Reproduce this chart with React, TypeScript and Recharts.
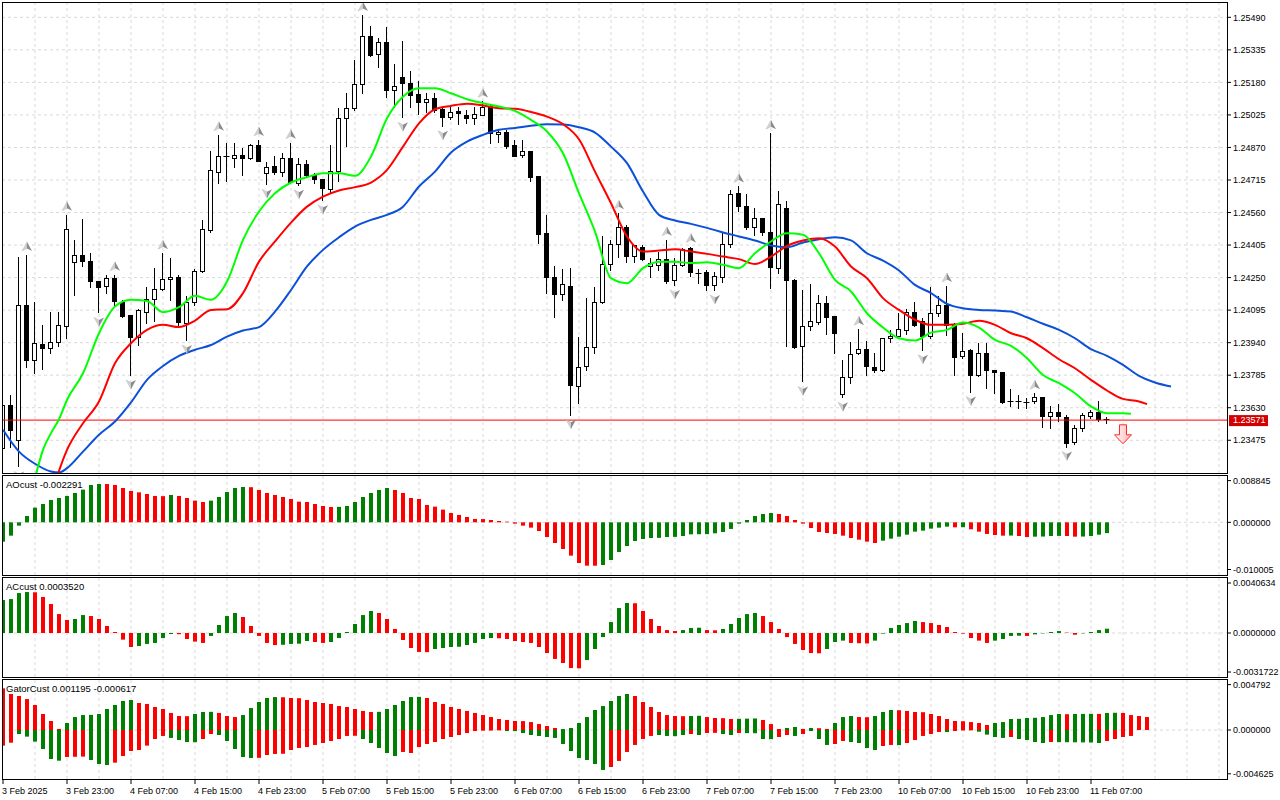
import React from 'react';
import { ComposedChart, Bar, Line, Scatter, XAxis, YAxis, CartesianGrid, ReferenceLine, Cell } from 'recharts';

const FONT = '"Liberation Sans", Arial, sans-serif';
const FS = 9;
const X_DOMAIN: [number, number] = [-0.125, 153];

// ---------- price candles (H1, 3 Feb 15:00 .. 11 Feb 09:00) ----------
const openP = [
  1.23437, 1.23644, 1.23477, 1.24120, 1.23858, 1.23933, 1.23914, 1.23942, 1.24017, 1.24323,
  1.24358, 1.24328, 1.24234, 1.24207, 1.24247, 1.24136, 1.24072, 1.23969, 1.24085, 1.24147,
  1.24195, 1.24242, 1.24252, 1.24037, 1.24136, 1.24282, 1.24477, 1.24755, 1.24827, 1.24819,
  1.24835, 1.24819, 1.24882, 1.24752, 1.24782, 1.24752, 1.24819, 1.24700, 1.24790, 1.24739,
  1.24719, 1.24674, 1.24758, 1.25009, 1.25057, 1.25171, 1.25401, 1.25314, 1.25371, 1.25147,
  1.25205, 1.25176, 1.25124, 1.25086, 1.25105, 1.25054, 1.25014, 1.25044, 1.25025, 1.25009,
  1.25028, 1.25068, 1.24933, 1.24943, 1.24882, 1.24831, 1.24854, 1.24735, 1.24461, 1.24252,
  1.24171, 1.24210, 1.23736, 1.23826, 1.23917, 1.24133, 1.24314, 1.24411, 1.24493, 1.24350,
  1.24398, 1.24303, 1.24311, 1.24338, 1.24239, 1.24311, 1.24390, 1.24274, 1.24279, 1.24215,
  1.24252, 1.24409, 1.24652, 1.24592, 1.24490, 1.24533, 1.24466, 1.24298, 1.24581, 1.24239,
  1.23922, 1.24017, 1.24041, 1.24131, 1.24068, 1.23696, 1.23775, 1.23890, 1.23910, 1.23823,
  1.23810, 1.23961, 1.23972, 1.24004, 1.24088, 1.24041, 1.23969, 1.24080, 1.24120, 1.24025,
  1.23874, 1.23906, 1.23786, 1.23890, 1.23810, 1.23799, 1.23660, 1.23660, 1.23655, 1.23660,
  1.23679, 1.23588, 1.23609, 1.23588, 1.23464, 1.23532, 1.23591, 1.23609, 1.23574,
];
const highP = [
  1.23667, 1.23691, 1.24350, 1.24358, 1.24136, 1.24025, 1.24085, 1.24085, 1.24549, 1.24430,
  1.24530, 1.24366, 1.24234, 1.24263, 1.24263, 1.24144, 1.24072, 1.24099, 1.24207, 1.24298,
  1.24366, 1.24342, 1.24263, 1.24160, 1.24290, 1.24525, 1.24854, 1.24930, 1.24890, 1.24890,
  1.24866, 1.24885, 1.24906, 1.24803, 1.24827, 1.24842, 1.24893, 1.24819, 1.24811, 1.24747,
  1.24719, 1.24882, 1.25057, 1.25128, 1.25287, 1.25501, 1.25449, 1.25390, 1.25446, 1.25267,
  1.25375, 1.25235, 1.25187, 1.25128, 1.25128, 1.25065, 1.25065, 1.25062, 1.25049, 1.25065,
  1.25089, 1.25073, 1.24951, 1.24951, 1.24906, 1.24906, 1.24854, 1.24735, 1.24549, 1.24307,
  1.24291, 1.24298, 1.23969, 1.24152, 1.24207, 1.24446, 1.24430, 1.24557, 1.24501, 1.24406,
  1.24406, 1.24342, 1.24374, 1.24430, 1.24342, 1.24390, 1.24398, 1.24290, 1.24287, 1.24279,
  1.24461, 1.24668, 1.24684, 1.24647, 1.24581, 1.24536, 1.24938, 1.24663, 1.24617, 1.24242,
  1.24191, 1.24218, 1.24168, 1.24163, 1.24068, 1.23858, 1.23942, 1.24004, 1.23949, 1.23890,
  1.23964, 1.24001, 1.24080, 1.24099, 1.24136, 1.24057, 1.24204, 1.24160, 1.24210, 1.24033,
  1.23988, 1.23909, 1.23937, 1.23937, 1.23810, 1.23802, 1.23718, 1.23691, 1.23675, 1.23699,
  1.23683, 1.23636, 1.23647, 1.23596, 1.23548, 1.23604, 1.23620, 1.23660, 1.23588,
];
const lowP = [
  1.23413, 1.23445, 1.23350, 1.23826, 1.23794, 1.23814, 1.23890, 1.23922, 1.23964, 1.24168,
  1.24303, 1.24207, 1.24084, 1.24176, 1.24112, 1.24064, 1.23786, 1.23929, 1.24036, 1.24041,
  1.24191, 1.24144, 1.24017, 1.23953, 1.24120, 1.24279, 1.24469, 1.24703, 1.24708, 1.24779,
  1.24739, 1.24815, 1.24808, 1.24695, 1.24744, 1.24736, 1.24700, 1.24692, 1.24736, 1.24703,
  1.24620, 1.24660, 1.24708, 1.24877, 1.25049, 1.25128, 1.25306, 1.25251, 1.25112, 1.25065,
  1.25014, 1.25065, 1.25028, 1.25041, 1.25041, 1.24973, 1.25006, 1.24981, 1.24985, 1.24981,
  1.25025, 1.24890, 1.24898, 1.24866, 1.24827, 1.24823, 1.24708, 1.24414, 1.24176, 1.24064,
  1.24144, 1.23596, 1.23652, 1.23810, 1.23890, 1.24131, 1.24287, 1.24350, 1.24326, 1.24326,
  1.24334, 1.24255, 1.24287, 1.24226, 1.24215, 1.24303, 1.24258, 1.24223, 1.24191, 1.24191,
  1.24231, 1.24398, 1.24569, 1.24482, 1.24454, 1.24454, 1.24199, 1.24271, 1.23922, 1.23914,
  1.23755, 1.24001, 1.24030, 1.23980, 1.23893, 1.23680, 1.23747, 1.23887, 1.23786, 1.23802,
  1.23807, 1.23945, 1.23969, 1.23980, 1.24017, 1.23906, 1.23961, 1.24068, 1.23977, 1.23786,
  1.23866, 1.23707, 1.23779, 1.23723, 1.23699, 1.23652, 1.23636, 1.23628, 1.23628, 1.23652,
  1.23536, 1.23532, 1.23569, 1.23445, 1.23456, 1.23517, 1.23580, 1.23569, 1.23556,
];
const closeP = [
  1.23644, 1.23525, 1.24120, 1.23858, 1.23937, 1.23914, 1.23942, 1.24022, 1.24481, 1.24358,
  1.24331, 1.24231, 1.24207, 1.24247, 1.24136, 1.24069, 1.23969, 1.24096, 1.24147, 1.24195,
  1.24242, 1.24252, 1.24037, 1.24136, 1.24282, 1.24481, 1.24763, 1.24830, 1.24830, 1.24835,
  1.24819, 1.24882, 1.24808, 1.24779, 1.24752, 1.24819, 1.24703, 1.24790, 1.24739, 1.24719,
  1.24674, 1.24758, 1.25009, 1.25057, 1.25171, 1.25401, 1.25311, 1.25371, 1.25141, 1.25165,
  1.25176, 1.25117, 1.25084, 1.25101, 1.25049, 1.25014, 1.25038, 1.25033, 1.25009, 1.25028,
  1.25065, 1.24941, 1.24943, 1.24874, 1.24830, 1.24851, 1.24731, 1.24461, 1.24252, 1.24171,
  1.24218, 1.23736, 1.23826, 1.23917, 1.24133, 1.24314, 1.24409, 1.24490, 1.24355, 1.24403,
  1.24342, 1.24319, 1.24338, 1.24234, 1.24311, 1.24385, 1.24274, 1.24271, 1.24215, 1.24258,
  1.24409, 1.24647, 1.24592, 1.24490, 1.24533, 1.24466, 1.24298, 1.24601, 1.24236, 1.23922,
  1.24017, 1.24041, 1.24131, 1.24064, 1.23988, 1.23775, 1.23885, 1.23910, 1.23829, 1.23807,
  1.23961, 1.23972, 1.24004, 1.24088, 1.24025, 1.23969, 1.24080, 1.24120, 1.24025, 1.23874,
  1.23898, 1.23786, 1.23890, 1.23810, 1.23799, 1.23655, 1.23656, 1.23659, 1.23656, 1.23679,
  1.23588, 1.23609, 1.23588, 1.23464, 1.23532, 1.23596, 1.23609, 1.23575, 1.23571,
];

// ---------- Alligator lines (shifted: jaw +8, teeth +5, lips +3) ----------
const jawPts: [number, number][] = [
  [0, 1.23525], [2, 1.23421], [4, 1.23363], [6, 1.23326], [7, 1.23321], [8, 1.23342], [10, 1.23421], [12, 1.23501],
  [14, 1.23564], [16, 1.23655], [18, 1.23763], [20, 1.23829], [22, 1.23877], [24, 1.23906], [26, 1.23929], [28, 1.23969],
  [30, 1.23998], [32, 1.24014], [34, 1.24088], [36, 1.24191], [38, 1.24303], [40, 1.24382], [42, 1.24442], [44, 1.24493],
  [46, 1.24525], [48, 1.24549], [50, 1.24588], [52, 1.24684], [54, 1.24755], [56, 1.24846], [58, 1.24898], [60, 1.24930],
  [62, 1.24954], [64, 1.24963], [66, 1.24973], [68, 1.24981], [70, 1.24979], [72, 1.24966], [74, 1.24941], [76, 1.24874],
  [78, 1.24795], [80, 1.24660], [82, 1.24549], [84, 1.24522], [86, 1.24506], [88, 1.24487], [90, 1.24465], [92, 1.24446],
  [94, 1.24427], [96, 1.24403], [98, 1.24395], [100, 1.24417], [102, 1.24433], [104, 1.24442], [106, 1.24427], [108, 1.24366],
  [110, 1.24331], [112, 1.24284], [114, 1.24215], [116, 1.24176], [118, 1.24125], [120, 1.24104], [122, 1.24096], [124, 1.24093],
  [126, 1.24088], [128, 1.24061], [130, 1.24030], [132, 1.24001], [134, 1.23961], [136, 1.23909], [138, 1.23877], [140, 1.23834],
  [142, 1.23782], [144, 1.23750], [146, 1.23731],
];
const teethPts: [number, number][] = [
  [6, 1.23215], [8, 1.23429], [10, 1.23556], [12, 1.23660], [14, 1.23842], [16, 1.23937], [18, 1.24001], [20, 1.24025],
  [22, 1.24014], [24, 1.24045], [26, 1.24096], [28, 1.24099], [30, 1.24176], [32, 1.24326], [34, 1.24422], [36, 1.24512],
  [38, 1.24588], [40, 1.24636], [42, 1.24665], [44, 1.24681], [46, 1.24703], [48, 1.24763], [50, 1.24874], [52, 1.24985],
  [54, 1.25052], [56, 1.25068], [58, 1.25078], [60, 1.25070], [62, 1.25057], [64, 1.25054], [66, 1.25039], [68, 1.25017],
  [70, 1.24981], [72, 1.24909], [74, 1.24755], [76, 1.24604], [78, 1.24446], [80, 1.24374], [82, 1.24379], [84, 1.24385],
  [86, 1.24374], [88, 1.24363], [90, 1.24350], [92, 1.24338], [94, 1.24315], [96, 1.24350], [98, 1.24401], [100, 1.24427],
  [102, 1.24438], [104, 1.24398], [106, 1.24303], [108, 1.24247], [110, 1.24152], [112, 1.24096], [114, 1.24049], [116, 1.24025],
  [118, 1.24025], [120, 1.24030], [122, 1.24044], [124, 1.24025], [126, 1.23985], [128, 1.23961], [130, 1.23914], [132, 1.23861],
  [134, 1.23818], [136, 1.23763], [138, 1.23712], [140, 1.23672], [142, 1.23660], [143, 1.23647],
];
const lipsPts: [number, number][] = [
  [4, 1.23294], [5, 1.23429], [6, 1.23509], [7, 1.23575], [8, 1.23667], [10, 1.23794], [12, 1.23985], [14, 1.24112],
  [16, 1.24144], [18, 1.24139], [20, 1.24085], [22, 1.24109], [24, 1.24163], [26, 1.24144], [28, 1.24231], [30, 1.24430],
  [32, 1.24565], [34, 1.24652], [36, 1.24703], [38, 1.24728], [40, 1.24747], [42, 1.24747], [44, 1.24735], [46, 1.24827],
  [48, 1.25009], [50, 1.25112], [52, 1.25152], [54, 1.25152], [56, 1.25128], [58, 1.25100], [60, 1.25081], [62, 1.25065],
  [64, 1.25044], [66, 1.25001], [68, 1.24946], [70, 1.24842], [72, 1.24652], [74, 1.24469], [76, 1.24247], [78, 1.24223],
  [80, 1.24295], [82, 1.24326], [84, 1.24326], [86, 1.24319], [88, 1.24323], [90, 1.24311], [92, 1.24295], [94, 1.24366],
  [96, 1.24422], [98, 1.24461], [100, 1.24454], [102, 1.24366], [104, 1.24239], [106, 1.24184], [108, 1.24080], [110, 1.24012],
  [112, 1.23961], [114, 1.23950], [116, 1.23988], [118, 1.24001], [120, 1.24036], [122, 1.24012], [124, 1.23953], [126, 1.23925],
  [128, 1.23866], [130, 1.23786], [132, 1.23747], [134, 1.23699], [136, 1.23636], [138, 1.23604], [140, 1.23604], [141, 1.23601],
];

// ---------- fractals & signal ----------
const fractalUpIdx = [3, 8, 14, 20, 27, 32, 36, 45, 60, 77, 83, 86, 92, 96, 107, 118, 129];
const fractalDnIdx = [2, 12, 16, 23, 33, 37, 40, 50, 55, 71, 84, 89, 100, 105, 115, 121, 133];
const signalIdx = 140;
const signalPrice = 1.23501;
const lastPrice = 1.23571;

// ---------- AO ----------
const aoVal = [
  -0.0041, -0.00283, -0.00071, 0.00134, 0.00311, 0.00389, 0.00474, 0.00516, 0.00559, 0.00622,
  0.00693, 0.00792, 0.00813, 0.00812, 0.00792, 0.00728, 0.00665, 0.00636, 0.00601, 0.00559,
  0.00555, 0.0058, 0.00559, 0.00516, 0.0046, 0.00431, 0.0046, 0.00537, 0.00643, 0.00728,
  0.00749, 0.00745, 0.00686, 0.00622, 0.0058, 0.00537, 0.00495, 0.00438, 0.00431, 0.00389,
  0.00346, 0.00325, 0.00328, 0.00346, 0.00431, 0.00537, 0.00622, 0.00686, 0.00728, 0.00686,
  0.00622, 0.00516, 0.00495, 0.00368, 0.00332, 0.00269, 0.00198, 0.00156, 0.00113, 0.00071,
  0.00069, 0.00049, 0.00028, 0.00014, -0.00028, -0.00071, -0.00113, -0.00184, -0.00311, -0.00438,
  -0.00566, -0.00707, -0.00863, -0.00919, -0.0092, -0.00905, -0.00799, -0.00629, -0.00502, -0.00396,
  -0.00354, -0.00332, -0.0033, -0.00311, -0.00309, -0.0029, -0.00255, -0.00253, -0.00251, -0.00233,
  -0.00205, -0.00141, -0.00028, 0.00049, 0.00134, 0.00177, 0.00198, 0.00177, 0.00134, 0.00049,
  -0.00028, -0.0012, -0.00205, -0.00226, -0.00247, -0.00283, -0.00332, -0.00368, -0.0041, -0.00438,
  -0.00389, -0.00346, -0.00304, -0.00262, -0.00198, -0.00177, -0.00134, -0.00113, -0.00092, -0.00106,
  -0.00104, -0.00148, -0.00198, -0.00247, -0.00269, -0.00283, -0.00281, -0.0029, -0.00311, -0.00304,
  -0.00302, -0.0029, -0.00288, -0.0029, -0.00304, -0.00302, -0.0029, -0.00262, -0.00229,
];
const aoColor = [
  'ggggggggggggg', 'rrrrrrrr', 'g', 'rrrr', 'ggggg', 'rrrrrrrrrrr', 'ggggggg',
  'rrrrrrrrrrrrrrrrrrrrrrrrrr', 'gggggggggggggggggggggg', 'rrrrrrrrrrrrr', 'ggggggggg',
  'r', 'g', 'rrrrr', 'g', 'rr', 'gggg', 'rr', 'gggg',
].join('').split('');

// ---------- AC ----------
const acVal = [
  0.00268, 0.00276, 0.00325, 0.00333, 0.00331, 0.00293, 0.00236, 0.00154, 0.00106, 0.00114,
  0.00146, 0.00138, 0.00114, 0.00057, 0.00008, -0.00054, -0.00114, -0.00106, -0.00089, -0.00081,
  -0.00041, -0.00008, -0.0001, -0.00049, -0.0007, -0.00081, -0.00024, 0.00065, 0.00138, 0.00163,
  0.0013, 0.00057, -0.00024, -0.00081, -0.00098, -0.00096, -0.00089, -0.00087, -0.00065, -0.00073,
  -0.00081, -0.00073, -0.00041, 0.00008, 0.00073, 0.00146, 0.00179, 0.00163, 0.00114, 0.00033,
  -0.00057, -0.00122, -0.00154, -0.00156, -0.0013, -0.00122, -0.00114, -0.00112, -0.00098, -0.00081,
  -0.00049, -0.00041, -0.00043, -0.00049, -0.00065, -0.00073, -0.00081, -0.00114, -0.00163, -0.00211,
  -0.00244, -0.00285, -0.00287, -0.0022, -0.0013, -0.00033, 0.00089, 0.00203, 0.00244, 0.00242,
  0.00179, 0.00114, 0.00057, 0.00024, 0.00016, 0.00024, 0.00041, 0.00043, 0.00024, 0.00022,
  0.00033, 0.00073, 0.00122, 0.00154, 0.00163, 0.00138, 0.00089, 0.00033, -0.00033, -0.00089,
  -0.00138, -0.00163, -0.00165, -0.0013, -0.00073, -0.00062, -0.00081, -0.00083, -0.00085, -0.00062,
  -0.00005, 0.00041, 0.00065, 0.00081, 0.00098, 0.00089, 0.00081, 0.00065, 0.00049, 0.00008,
  -0.00005, -0.00041, -0.00062, -0.00081, -0.00062, -0.00049, -0.00024, -0.00022, -0.00024, -0.00011,
  -0.00003, 0.00008, 0.00016, 0.00003, -0.00014, -0.00003, 0.00008, 0.00024, 0.00035,
];
const acColor = [
  'gggg', 'rrrrr', 'gg', 'rrrrrr', 'ggggg', 'rrrr', 'gggg', 'rrrrr', 'gggg', 'rr', 'gggggg',
  'rrrrrrr', 'gggggggg', 'rrrrrrrrrrr', 'gggggg', 'rrrrrr', 'ggg', 'rr', 'ggggg', 'rrrrrrrr',
  'ggg', 'rrr', 'gggggg', 'rrrrrrrrr', 'gggg', 'r', 'gggg', 'rr', 'gggg',
].join('').split('');

// ---------- Gator ----------
const gatorUp = [
  0.0044, 0.0038, 0.00359, 0.00327, 0.00264, 0.00169, 0.00095, 0.00011, 0.00074, 0.00137,
  0.00158, 0.0016, 0.00169, 0.00222, 0.00264, 0.00306, 0.00317, 0.00285, 0.00275, 0.00243,
  0.00222, 0.0018, 0.00148, 0.00146, 0.00169, 0.0019, 0.00192, 0.0018, 0.00148, 0.00137,
  0.00158, 0.00232, 0.00296, 0.00338, 0.00348, 0.00346, 0.00338, 0.00336, 0.00317, 0.00296,
  0.00285, 0.00275, 0.00253, 0.00243, 0.00222, 0.00201, 0.0019, 0.00192, 0.00222, 0.00264,
  0.00306, 0.00348, 0.0035, 0.00338, 0.00296, 0.00275, 0.00243, 0.00222, 0.00201, 0.0018,
  0.00158, 0.00137, 0.00116, 0.00106, 0.00095, 0.00094, 0.00084, 0.00063, 0.00042, 0.00021,
  0.0001, 0.00021, 0.00074, 0.00137, 0.00211, 0.00253, 0.00306, 0.00359, 0.0038, 0.00359,
  0.00296, 0.00243, 0.0019, 0.00158, 0.00148, 0.00146, 0.00148, 0.0015, 0.00137, 0.00127,
  0.00125, 0.00116, 0.00118, 0.0012, 0.00122, 0.00106, 0.00063, 0.00011, 0.00021, 0.00032,
  0.00011, 0.00021, 0.00019, 0.00011, 0.00074, 0.00137, 0.00148, 0.00137, 0.00135, 0.00148,
  0.0019, 0.00211, 0.00209, 0.00201, 0.0019, 0.00188, 0.00169, 0.00148, 0.00116, 0.00095,
  0.00093, 0.00084, 0.00074, 0.00053, 0.00074, 0.00084, 0.00116, 0.00118, 0.00127, 0.00129,
  0.00137, 0.00158, 0.00169, 0.00167, 0.00169, 0.0017, 0.00171, 0.0017, 0.0018, 0.00182,
  0.0018, 0.00158, 0.00148, 0.00137,
];
const gatorUpColor = [
  'rrrrrrrr', 'ggggggggg', 'rrrrrrr', 'ggg', 'rrr', 'ggggg', 'rrrrrrrrrrrr', 'gggggg',
  'rrrrrrrrrrrrrrrrr', 'ggggggggg', 'rrrrrrr', 'gg', 'rrrr', 'ggg', 'rrr', 'gg', 'r', 'g', 'rr',
  'ggg', 'rr', 'ggg', 'rrrrrrrrrrrr', 'ggggggggg', 'r', 'ggg', 'r', 'gg', 'rrrr',
].join('').split('');
const gatorDn = [
  -0.00165, -0.00134, -0.00042, -0.0007, -0.00123, -0.00201, -0.00306, -0.00324, -0.00285, -0.00283,
  -0.00281, -0.00317, -0.00359, -0.0037, -0.00345, -0.00275, -0.00222, -0.00211, -0.00165, -0.00095,
  -0.00063, -0.00084, -0.00106, -0.00127, -0.00129, -0.00095, -0.00042, -0.00053, -0.00116, -0.00201,
  -0.00285, -0.00296, -0.00294, -0.00264, -0.00253, -0.00251, -0.00211, -0.0019, -0.0018, -0.00158,
  -0.00137, -0.00116, -0.00095, -0.00063, -0.00061, -0.00095, -0.00137, -0.0019, -0.00243, -0.00275,
  -0.00232, -0.00243, -0.0018, -0.00148, -0.00127, -0.00095, -0.00074, -0.00053, -0.00032, -0.00011,
  -0.00007, -0.00006, -0.00004, -0.00011, -0.00012, -0.00032, -0.00053, -0.00063, -0.00074, -0.00084,
  -0.00148, -0.00222, -0.00296, -0.00317, -0.00359, -0.00422, -0.00391, -0.00327, -0.00232, -0.00158,
  -0.00095, -0.00063, -0.00053, -0.00063, -0.00065, -0.00053, -0.00042, -0.00053, -0.00032, -0.0003,
  -0.00042, -0.00053, -0.00032, -0.00033, -0.00034, -0.00095, -0.00097, -0.00074, -0.00053, -0.00063,
  -0.00042, -0.00011, -0.00095, -0.00158, -0.00148, -0.00116, -0.00127, -0.00137, -0.0019, -0.00211,
  -0.00169, -0.00158, -0.0016, -0.00137, -0.00106, -0.00063, -0.00042, -0.00021, -0.00022, -0.00011,
  -0.00005, -0.00004, -0.00018, -0.00049, -0.00074, -0.00084, -0.00074, -0.00095, -0.00106, -0.00127,
  -0.00137, -0.00127, -0.00128, -0.00129, -0.0013, -0.00131, -0.00132, -0.00137, -0.00116, -0.00095,
  -0.00074, -0.00063,
];
const gatorDnColor = [
  'rr', 'gggggg', 'rrr', 'ggg', 'rrrrrrr', 'gggg', 'rr', 'ggggg', 'rrrrrrrrrrrrr', 'ggggg',
  'rrrrrrrrrrrrr', 'ggggggggggggg', 'rrrrrr', 'gggg', 'r', 'g', 'rr', 'gg', 'r', 'gggg', 'rr', 'g',
  'r', 'ggg', 'rr', 'gggg', 'rr', 'g', 'rrrrr', 'g', 'rrr', 'gggg', 'r', 'gggg', 'r', 'gggggg', 'rrrr',
].join('').split('');

// ---------- axes ----------
const priceTicks = [1.23475, 1.2363, 1.23785, 1.2394, 1.24095, 1.2425, 1.24405, 1.2456, 1.24715, 1.2487, 1.25025, 1.2518, 1.25335, 1.2549];
const aoTicks = [0.008845, 0, -0.010005];
const acTicks = [0.0040634, 0, -0.0031722];
const gatorTicks = [0.004792, 0, -0.004625];
const gridIdx = [4, 8, 12, 16, 20, 24, 28, 32, 36, 40, 44, 48, 52, 56, 60, 64, 68, 72, 76, 80, 84, 88, 92, 96, 100, 104, 108, 112, 116, 120, 124, 128, 132, 136, 140, 144, 148, 152];
const timeIdx = [0, 8, 16, 24, 32, 40, 48, 56, 64, 72, 80, 88, 96, 104, 112, 120, 128, 136];
const timeLabels = [
  '3 Feb 2025', '3 Feb 23:00', '4 Feb 07:00', '4 Feb 15:00', '4 Feb 23:00', '5 Feb 07:00', '5 Feb 15:00', '5 Feb 23:00',
  '6 Feb 07:00', '6 Feb 15:00', '6 Feb 23:00', '7 Feb 07:00', '7 Feb 15:00', '7 Feb 23:00', '10 Feb 07:00', '10 Feb 15:00',
  '10 Feb 23:00', '11 Feb 07:00',
];
const aoTitle = 'AOcust -0.002291';
const acTitle = 'ACcust 0.0003520';
const gatorTitle = 'GatorCust 0.001195 -0.000617';

const GREEN = '#008000';
const RED = '#ff0000';

// ---------- table building ----------
const mainRows: any[] = [];
for (let i = 0; i <= 146; i++) {
  const r: any = { i };
  if (i < openP.length) {
    r.o = openP[i]; r.h = highP[i]; r.l = lowP[i]; r.c = closeP[i];
    r.range = [lowP[i], highP[i]];
  }
  mainRows.push(r);
}
jawPts.forEach(([i, v]) => { mainRows[i].jaw = v; });
teethPts.forEach(([i, v]) => { mainRows[i].teeth = v; });
lipsPts.forEach(([i, v]) => { mainRows[i].lips = v; });

const fracUpData = fractalUpIdx.map((i) => ({ i, y: highP[i] }));
const fracDnData = fractalDnIdx.map((i) => ({ i, y: lowP[i] }));
const signalData = [{ i: signalIdx, y: signalPrice }];

const aoRows = aoVal.map((v, i) => ({ i, v }));
const acRows = acVal.map((v, i) => ({ i, v }));
const gatorRows = gatorUp.map((u, i) => ({ i, u, d: i < gatorDn.length ? gatorDn[i] : undefined }));

// ---------- shapes ----------
function Candle(props: any) {
  const { x, y, width, height, payload } = props;
  if (!payload || payload.o == null || x == null || y == null) return null;
  const top = Math.min(y, y + height);
  const span = Math.abs(height);
  const hi = payload.h, lo = payload.l;
  const k = hi > lo ? span / (hi - lo) : 0;
  const yO = top + (hi - payload.o) * k;
  const yC = top + (hi - payload.c) * k;
  const cx = Math.floor(x + width / 2) + 0.5;
  const bull = payload.c >= payload.o;
  const bt = Math.min(yO, yC), bb = Math.max(yO, yC);
  return (
    <g>
      <line x1={cx} x2={cx} y1={Math.round(top)} y2={Math.round(top + span) + 1} stroke="#000" strokeWidth={1} />
      {bb - bt < 1.5 ? (
        <line x1={cx - 3} x2={cx + 3} y1={Math.round(yO) + 0.5} y2={Math.round(yO) + 0.5} stroke="#000" strokeWidth={1} />
      ) : (
        <rect x={cx - 2} y={Math.round(bt) + 0.5} width={4} height={Math.max(1, Math.round(bb - bt))}
          fill={bull ? '#fff' : '#000'} stroke="#000" strokeWidth={1} />
      )}
    </g>
  );
}

function FractalUp(props: any) {
  const { cx, cy } = props;
  if (cx == null || cy == null) return null;
  return (
    <g transform={`translate(${cx},${cy - 8})`}>
      <path d="M0,-5 L-5,4 L0,1.5 Z" fill="#d2d2d2" stroke="#b0b0b0" strokeWidth={0.4} />
      <path d="M0,-5 L5,4 L0,1.5 Z" fill="#8a8a8a" />
    </g>
  );
}

function FractalDown(props: any) {
  const { cx, cy } = props;
  if (cx == null || cy == null) return null;
  return (
    <g transform={`translate(${cx},${cy + 9})`}>
      <path d="M0,5 L-5,-4 L0,-1.5 Z" fill="#d2d2d2" stroke="#b0b0b0" strokeWidth={0.4} />
      <path d="M0,5 L5,-4 L0,-1.5 Z" fill="#8a8a8a" />
    </g>
  );
}

function SignalArrow(props: any) {
  const { cx, cy } = props;
  if (cx == null || cy == null) return null;
  return (
    <g transform={`translate(${cx},${cy})`}>
      <defs>
        <linearGradient id="sigfill" x1="0" y1="0" x2="1" y2="0">
          <stop offset="0" stopColor="#ffffff" />
          <stop offset="1" stopColor="#ffb0b0" />
        </linearGradient>
      </defs>
      <path d="M-3.5,-10 H3.5 V0 H8.5 L0,9 L-8.5,0 H-3.5 Z" fill="url(#sigfill)" stroke="#ff2a2a" strokeWidth={1} />
    </g>
  );
}

function PriceTag(props: any) {
  const vb = props.viewBox || {};
  const x = (vb.x || 0) + (vb.width || 0);
  const y = vb.y || 0;
  return (
    <g>
      <rect x={x + 2} y={y - 5} width={39} height={11} fill="#d20000" />
      <text x={x + 6} y={y} dy="0.36em" fill="#fff" fontSize={FS} fontFamily={FONT}>{lastPrice.toFixed(5)}</text>
    </g>
  );
}

function TimeTick(props: any) {
  const { x, y, payload } = props;
  const k = timeIdx.indexOf(payload.value);
  if (k < 0) return null;
  return (
    <text x={x - 1} y={y + 8} fontSize={FS} fontFamily={FONT} fill="#000" textAnchor="start">{timeLabels[k]}</text>
  );
}

const tickStyle = { fontSize: FS, fontFamily: FONT, fill: '#000' };

function frame(left: number, top: number, width: number, height: number) {
  return (
    <div style={{ position: 'absolute', left, top, width, height, border: '1px solid #000', boxSizing: 'border-box', pointerEvents: 'none' }} />
  );
}

export default function App() {
  return (
    <div style={{ position: 'absolute', left: 0, top: 0, width: 1280, height: 800, background: '#fff', overflow: 'hidden', fontFamily: FONT }}>
      {/* main price pane */}
      <div style={{ position: 'absolute', left: 0, top: 0 }}>
        <ComposedChart width={1280} height={475} data={mainRows} margin={{ top: 2, right: 0, bottom: 2, left: 2 }}>
          <CartesianGrid stroke="#d9d9d9" strokeDasharray="3 3" horizontalValues={priceTicks} verticalValues={gridIdx} />
          <XAxis type="number" dataKey="i" domain={X_DOMAIN} allowDataOverflow hide />
          <YAxis orientation="right" width={53} domain={[1.23319, 1.25563]} allowDataOverflow ticks={priceTicks} interval={0}
            tickFormatter={(v: number) => v.toFixed(5)} tick={tickStyle} tickSize={4} tickLine={{ stroke: '#000' }} axisLine={false} />
          <ReferenceLine y={lastPrice} stroke="#ff0000" strokeWidth={1} label={<PriceTag />} />
          <Bar dataKey="range" barSize={5} shape={(p: any) => <Candle {...p} />} isAnimationActive={false} />
          <Line dataKey="jaw" stroke="#0a50d8" strokeWidth={2} dot={false} connectNulls type="monotone" isAnimationActive={false} />
          <Line dataKey="teeth" stroke="#ff0000" strokeWidth={2} dot={false} connectNulls type="monotone" isAnimationActive={false} />
          <Line dataKey="lips" stroke="#00ff00" strokeWidth={2} dot={false} connectNulls type="monotone" isAnimationActive={false} />
          <Scatter data={fracUpData} dataKey="y" shape={(p: any) => <FractalUp {...p} />} isAnimationActive={false} />
          <Scatter data={fracDnData} dataKey="y" shape={(p: any) => <FractalDown {...p} />} isAnimationActive={false} />
          <Scatter data={signalData} dataKey="y" shape={(p: any) => <SignalArrow {...p} />} isAnimationActive={false} />
        </ComposedChart>
      </div>
      {frame(2, 2, 1226, 472)}

      {/* AO pane */}
      <div style={{ position: 'absolute', left: 0, top: 474 }}>
        <ComposedChart width={1280} height={103} data={aoRows} margin={{ top: 2, right: 0, bottom: 2, left: 2 }}>
          <CartesianGrid stroke="#d9d9d9" strokeDasharray="3 3" horizontalValues={[0]} verticalValues={gridIdx} />
          <XAxis type="number" dataKey="i" domain={X_DOMAIN} allowDataOverflow hide />
          <YAxis orientation="right" width={53} domain={[-0.01117, 0.00982]} allowDataOverflow ticks={aoTicks} interval={0}
            tickFormatter={(v: number) => v.toFixed(6)} tick={tickStyle} tickSize={4} tickLine={{ stroke: '#000' }} axisLine={false} />
          <Bar dataKey="v" barSize={4} isAnimationActive={false}>
            {aoRows.map((r, k) => <Cell key={k} fill={aoColor[k] === 'g' ? GREEN : RED} />)}
          </Bar>
        </ComposedChart>
      </div>
      {frame(2, 475, 1226, 101)}

      {/* AC pane */}
      <div style={{ position: 'absolute', left: 0, top: 576 }}>
        <ComposedChart width={1280} height={102} data={acRows} margin={{ top: 2, right: 0, bottom: 1, left: 2 }}>
          <CartesianGrid stroke="#d9d9d9" strokeDasharray="3 3" horizontalValues={[0]} verticalValues={gridIdx} />
          <XAxis type="number" dataKey="i" domain={X_DOMAIN} allowDataOverflow hide />
          <YAxis orientation="right" width={53} domain={[-0.003577, 0.004472]} allowDataOverflow ticks={acTicks} interval={0}
            tickFormatter={(v: number) => v.toFixed(7)} tick={tickStyle} tickSize={4} tickLine={{ stroke: '#000' }} axisLine={false} />
          <Bar dataKey="v" barSize={4} isAnimationActive={false}>
            {acRows.map((r, k) => <Cell key={k} fill={acColor[k] === 'g' ? GREEN : RED} />)}
          </Bar>
        </ComposedChart>
      </div>
      {frame(2, 577, 1226, 101)}

      {/* Gator pane */}
      <div style={{ position: 'absolute', left: 0, top: 678 }}>
        <ComposedChart width={1280} height={122} data={gatorRows} stackOffset="sign" margin={{ top: 2, right: 0, bottom: 0, left: 2 }}>
          <CartesianGrid stroke="#d9d9d9" strokeDasharray="3 3" horizontalValues={[0]} verticalValues={gridIdx} />
          <XAxis type="number" dataKey="i" domain={X_DOMAIN} allowDataOverflow height={21} ticks={timeIdx} interval={0}
            tick={<TimeTick />} tickSize={5} tickLine={{ stroke: '#000' }} axisLine={false} />
          <YAxis orientation="right" width={53} domain={[-0.005174, 0.00528]} allowDataOverflow ticks={gatorTicks} interval={0}
            tickFormatter={(v: number) => v.toFixed(6)} tick={tickStyle} tickSize={4} tickLine={{ stroke: '#000' }} axisLine={false} />
          <Bar dataKey="u" stackId="g" barSize={4} isAnimationActive={false}>
            {gatorRows.map((r, k) => <Cell key={k} fill={gatorUpColor[k] === 'g' ? GREEN : RED} />)}
          </Bar>
          <Bar dataKey="d" stackId="g" barSize={4} isAnimationActive={false}>
            {gatorRows.map((r, k) => <Cell key={k} fill={gatorDnColor[k] === 'g' ? GREEN : RED} />)}
          </Bar>
        </ComposedChart>
      </div>
      {frame(2, 679, 1226, 101)}

      {/* pane titles */}
      <svg width={1280} height={800} style={{ position: 'absolute', left: 0, top: 0, pointerEvents: 'none' }}>
        <text x={6} y={488} fontSize={FS + 0.5} fontFamily={FONT} fill="#000">{aoTitle}</text>
        <text x={6} y={590} fontSize={FS + 0.5} fontFamily={FONT} fill="#000">{acTitle}</text>
        <text x={6} y={692} fontSize={FS + 0.5} fontFamily={FONT} fill="#000">{gatorTitle}</text>
      </svg>
    </div>
  );
}
